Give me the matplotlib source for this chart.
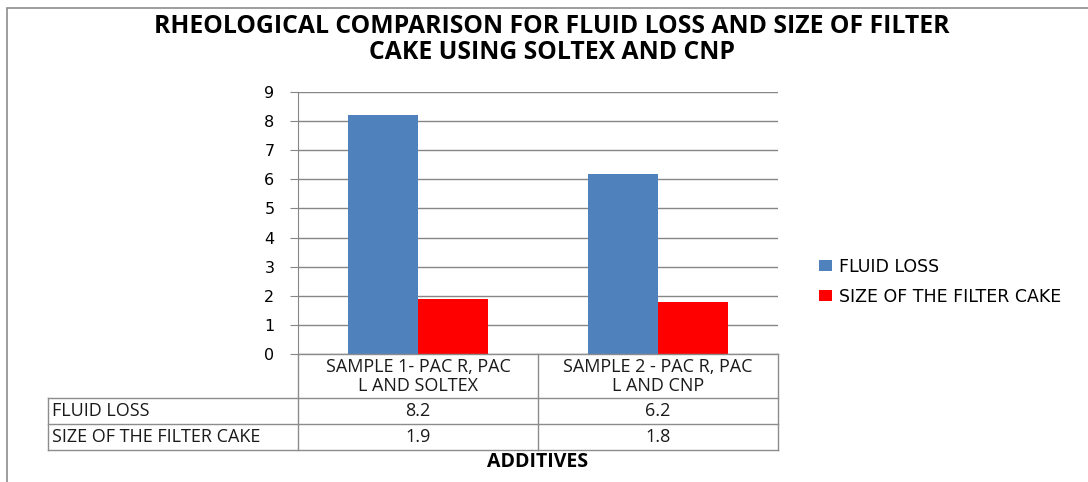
import matplotlib
matplotlib.use("Agg")
import matplotlib.pyplot as plt
import matplotlib.transforms as mtrans
from matplotlib.patches import Rectangle
import numpy as np

categories = ["SAMPLE 1- PAC R, PAC\nL AND SOLTEX", "SAMPLE 2 - PAC R, PAC\nL AND CNP"]
series_names = ["FLUID LOSS", "SIZE OF THE FILTER CAKE"]
fluid_loss = [8.2, 6.2]
filter_cake = [1.9, 1.8]
value_labels = [["8.2", "6.2"], ["1.9", "1.8"]]
title = "RHEOLOGICAL COMPARISON FOR FLUID LOSS AND SIZE OF FILTER\nCAKE USING SOLTEX AND CNP"
xlabel = "ADDITIVES"
colors = ["#4F81BD", "#FF0000"]

W, H = 1088, 482
fig = plt.figure(figsize=(W / 100, H / 100), dpi=100)

def fx(px):
    return px / W

def fy(py):
    return 1 - py / H

ax = fig.add_axes([fx(298), fy(354), fx(778) - fx(298), fy(92) - fy(354)])

x = np.arange(len(categories))
bw = 0.29
ax.bar(x - bw / 2, fluid_loss, bw, color=colors[0], label=series_names[0], zorder=3)
ax.bar(x + bw / 2, filter_cake, bw, color=colors[1], label=series_names[1], zorder=3)
ax.set_xlim(-0.5, 1.5)
ax.set_ylim(0, 9)
ax.set_yticks(range(0, 10))
ax.set_xticks([])
ax.grid(axis="y", color="#868686", linewidth=1.0, zorder=0)
for s in ["top", "right", "bottom"]:
    ax.spines[s].set_visible(False)
ax.spines["left"].set_color("#868686")
ax.tick_params(axis="y", length=6, color="#868686", labelsize=11.5, pad=11, labelcolor="#000000")
for lbl in ax.get_yticklabels():
    lbl.set_family("DejaVu Sans")

# Table
gc = "#8c8c8c"
trans = mtrans.blended_transform_factory(ax.transData, fig.transFigure)
trans_ax = mtrans.blended_transform_factory(ax.transAxes, fig.transFigure)
y0, y1, y2, y3 = fy(354), fy(398), fy(424), fy(450)
xl = -250 / 480
for xv in [-0.5, 0.5, 1.5]:
    fig.add_artist(plt.Line2D([xv, xv], [y3, y0], transform=trans, color=gc, lw=1))
fig.add_artist(plt.Line2D([xl, xl], [y3, y1], transform=trans_ax, color=gc, lw=1))
fig.add_artist(plt.Line2D([-0.5, 1.5], [y0, y0], transform=trans, color=gc, lw=1))
for yv in [y1, y2, y3]:
    fig.add_artist(plt.Line2D([xl, 1.0], [yv, yv], transform=trans_ax, color=gc, lw=1))

tfont = dict(family="Open Sans", fontsize=13, color="#1a1a1a")
for i, c in enumerate(categories):
    fig.text(i, (y0 + y1) / 2 - 0.001, c, transform=trans, ha="center", va="center",
             linespacing=1.12, **tfont)
rows_y = [(y1 + y2) / 2, (y2 + y3) / 2]
for r, name in enumerate(series_names):
    fig.text(fx(52), rows_y[r], name, ha="left", va="center", **tfont)
    for i in range(len(categories)):
        fig.text(i, rows_y[r], value_labels[r][i], transform=trans, ha="center", va="center", **tfont)

fig.text(0.5, fy(462), xlabel, transform=trans_ax, ha="center", va="center",
         family="Open Sans", fontweight="bold", fontsize=14, color="#000000")

fig.text(fx(552), fy(39.5), title, ha="center", va="center", family="Open Sans",
         fontweight="bold", fontsize=17.8, linespacing=1.1, color="#000000")

leg = fig.legend(loc="center left", bbox_to_anchor=(fx(803), fy(282)), frameon=False,
                 prop=dict(family="DejaVu Sans", size=12.5), handlelength=0.75, handleheight=0.6,
                 labelspacing=0.7, handletextpad=0.4)

fig.add_artist(Rectangle((fx(7), -0.01), 1.0, fy(8) + 0.01, transform=fig.transFigure,
                         fill=False, edgecolor="#8c8c8c", lw=1.2))

fig.savefig("out.png", dpi=100)
